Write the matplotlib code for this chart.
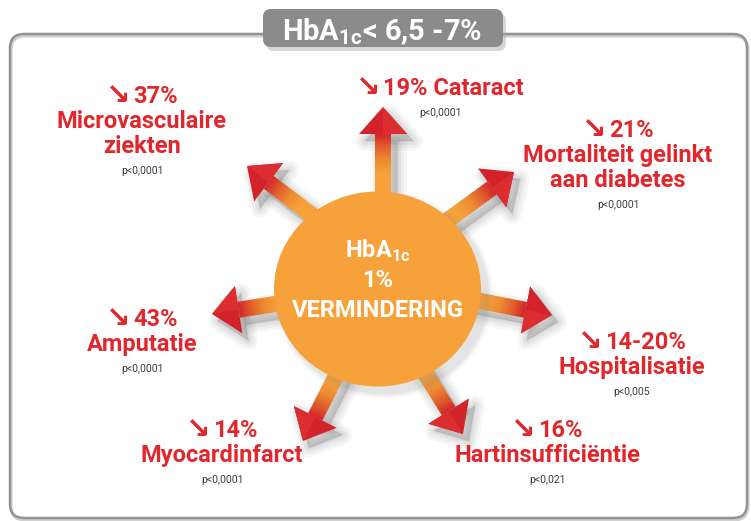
import numpy as np
import matplotlib
matplotlib.use('Agg')
import matplotlib.pyplot as plt
from matplotlib.patches import Polygon, Ellipse, FancyBboxPatch
from matplotlib import font_manager
from matplotlib.colors import to_rgb

# ---------------- data ----------------
outcomes = ['Microvasculaire\nziekten', 'Cataract', 'Mortaliteit gelinkt\naan diabetes',
            'Amputatie', 'Hospitalisatie', 'Myocardinfarct', 'Hartinsufficiëntie']
reductions = ['37%', '19%', '21%', '43%', '14-20%', '14%', '16%']
p_values = ['p<0,0001', 'p<0,0001', 'p<0,0001', 'p<0,0001', 'p<0,005', 'p<0,0001', 'p<0,021']
title_text = r'HbA$_{\mathregular{1c}}$< 6,5 -7%'
center_lines = [r'HbA$_{\mathregular{1c}}$', '1%', 'VERMINDERING']
down_arrow = '\u2198'

# ---------------- layout (pixel coords, y down) ----------------
label_x = [142, 440, 618, 142, 632, 222, 547]
label_y = [103, 95, 137, 326, 349, 437, 437]      # baseline of first line
inline = [False, True, False, False, False, False, False]
arrow_tip = [(247, 166), (383, 107), (514, 172), (212, 314), (552, 315), (303, 441), (463, 434)]
arrow_dir = [143, 90, 36, 189, -11, 243, -58]      # degrees, math orientation
circle_c = (377.5, 289)
circle_w, circle_h = 207, 195

names = {f.name for f in font_manager.fontManager.ttflist}
FONT = next(n for n in ['Liberation Sans Narrow', 'Roboto', 'Open Sans', 'DejaVu Sans'] if n in names)
FAM = [FONT, 'DejaVu Sans']
plt.rcParams['font.family'] = FAM

RED = '#E2272C'
HEADRED = '#D2232A'
ORANGE = '#F7A13B'
GRAY_TXT = '#3a3a3a'

fig = plt.figure(figsize=(7.51, 5.21), dpi=100)
ax = fig.add_axes([0, 0, 1, 1])
ax.set_xlim(0, 751)
ax.set_ylim(521, 0)
ax.axis('off')
renderer = fig.canvas.get_renderer()

# frame
ax.add_patch(FancyBboxPatch((11, 36), 737, 484, boxstyle='round,pad=0,rounding_size=14',
                            fill=False, edgecolor='#d0d0d0', lw=2.2, zorder=1))
ax.add_patch(FancyBboxPatch((10, 34), 737, 484, boxstyle='round,pad=0,rounding_size=14',
                            fill=False, edgecolor='#939393', lw=1.8, zorder=1))


def soft_shadow(poly, dx, dy, zorder, color='#7a7a7a'):
    for lw, a in [(14, 0.06), (10, 0.07), (6, 0.09), (2, 0.12)]:
        ax.add_patch(Polygon(poly + np.array([dx, dy]), closed=True, facecolor=color,
                             edgecolor=color, lw=lw, alpha=a, zorder=zorder,
                             joinstyle='round'))


def mix(c1, c2, t):
    a, b = np.array(to_rgb(c1)), np.array(to_rgb(c2))
    return tuple(a + (b - a) * t)


def shaft_color(s):
    stops = [(0, HEADRED), (12, '#DF5A2C'), (26, '#EC8A30'), (40, ORANGE)]
    if s >= stops[-1][0]:
        return to_rgb(ORANGE)
    for (s0, c0), (s1, c1) in zip(stops[:-1], stops[1:]):
        if s0 <= s <= s1:
            return mix(c0, c1, (s - s0) / (s1 - s0))


def draw_arrow(tip, ang, head_len=27, head_half=24, shaft_half=8, shaft_len=140):
    tip = np.array(tip, float)
    d = np.array([np.cos(np.radians(ang)), -np.sin(np.radians(ang))])
    n = np.array([-d[1], d[0]])
    base = tip - d * head_len
    start = base - d * shaft_len
    head = np.array([tip, base + n * head_half, base - n * head_half])
    body = np.array([start + n * shaft_half, base + n * shaft_half,
                     base - n * shaft_half, start - n * shaft_half])
    soft_shadow(head, 6, 7, 2)
    soft_shadow(body, 6, 7, 2)
    N = 70
    for i in range(N):
        s0 = shaft_len * i / N
        s1 = shaft_len * (i + 1) / N + 0.6
        p0 = base - d * s0
        p1 = base - d * min(s1, shaft_len)
        seg = np.array([p0 + n * shaft_half, p1 + n * shaft_half,
                        p1 - n * shaft_half, p0 - n * shaft_half])
        ax.add_patch(Polygon(seg, closed=True, facecolor=shaft_color((s0 + s1) / 2),
                             edgecolor='none', zorder=3))
    ax.add_patch(Polygon(head, closed=True, facecolor=HEADRED, edgecolor='none', zorder=4))
    facet = np.array([tip, base + n * head_half, base])
    ax.add_patch(Polygon(facet, closed=True, facecolor='#DC2D31', edgecolor='none', zorder=4))


for tip, ang in zip(arrow_tip, arrow_dir):
    draw_arrow(tip, ang)

# central circle with shadow
for k, a in [(12, 0.05), (8, 0.07), (4, 0.09)]:
    ax.add_patch(Ellipse((circle_c[0] + 6, circle_c[1] + 6), circle_w + k, circle_h + k,
                         facecolor='#808080', edgecolor='none', alpha=a, zorder=5))
ax.add_patch(Ellipse(circle_c, circle_w, circle_h, facecolor=ORANGE, edgecolor='none', zorder=6))

plt.rcParams['mathtext.fontset'] = 'custom'
plt.rcParams['mathtext.rm'] = FONT + ':bold'
plt.rcParams['mathtext.bf'] = FONT + ':bold'

center_y = [258, 287, 317]
for t, y in zip(center_lines, center_y):
    ax.text(circle_c[0], y, t, color='white', fontsize=17, fontweight='bold',
            ha='center', va='baseline', zorder=7)

# title box
ax.add_patch(FancyBboxPatch((266, 13), 240, 38, boxstyle='round,pad=0,rounding_size=8',
                            facecolor='#b0b0b0', edgecolor='none', alpha=0.5, zorder=8))
ax.add_patch(FancyBboxPatch((263, 9), 240, 38, boxstyle='round,pad=0,rounding_size=8',
                            facecolor='#8b8b8b', edgecolor='none', zorder=9))
ax.text(382, 40, title_text, color='white', fontsize=21, fontweight='bold',
        ha='center', va='baseline', zorder=10)


def px_width(t):
    return t.get_window_extent(renderer).width


def arrow_line(x, y, rest):
    """Draw '↘ rest' centred at x with the arrow glyph from DejaVu Sans."""
    ta = ax.text(0, y + 1, down_arrow, color=RED, fontsize=21, family='DejaVu Sans',
                 fontweight='bold', ha='left', va='baseline', zorder=10)
    tr = ax.text(0, y, rest, color=RED, fontsize=17, fontweight='bold',
                 ha='left', va='baseline', zorder=10)
    wa, wr = px_width(ta), px_width(tr)
    gap = 3
    total = wa + gap + wr
    x0 = x - total / 2
    ta.set_x(x0)
    tr.set_x(x0 + wa + gap)


LS = 25
for name, red, p, x, y, inl in zip(outcomes, reductions, p_values, label_x, label_y, inline):
    if inl:
        arrow_line(x, y, red + ' ' + name)
        nlines = 1
    else:
        arrow_line(x, y, red)
        sub = name.split('\n')
        for i, ln in enumerate(sub):
            ax.text(x, y + (i + 1) * LS, ln, color=RED, fontsize=17, fontweight='bold',
                    ha='center', va='baseline', zorder=10)
        nlines = 1 + len(sub)
    py = y + (nlines - 1) * LS + 21
    ax.text(x, py, p, color=GRAY_TXT, fontsize=7.5, ha='center', va='baseline', zorder=10)

fig.savefig('out.png', dpi=100)
